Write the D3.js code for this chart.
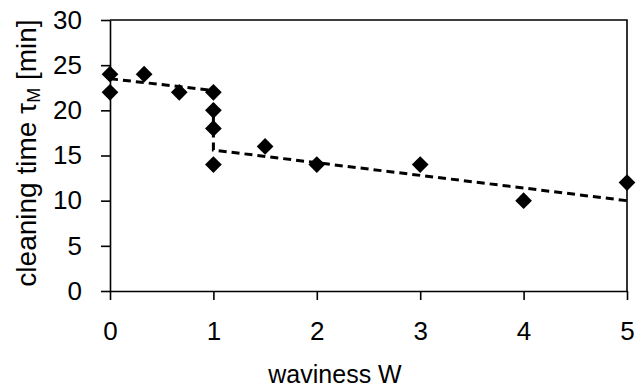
<!DOCTYPE html>
<html>
<head>
<meta charset="utf-8">
<script src="https://cdn.jsdelivr.net/npm/d3@7"></script>
<style>
  body { margin: 0; background: #fff; }
  text { font-family: "Liberation Sans", Arial, sans-serif; fill: #000; }
</style>
</head>
<body>
<div id="chart"></div>
<script>
// measured points: waviness W vs cleaning time tau_M [min]
var waviness = [0, 0, 0.33, 0.67, 1, 1, 1, 1, 1.5, 2, 3, 4, 5];
var cleaningTime = [24, 22, 24, 22, 22, 20, 18, 14, 16, 14, 14, 10, 12];

// dashed trend line (two fits joined by a step at W = 1)
var trendW = [0, 1, 1, 5];
var trendTime = [23.5, 22.2, 15.6, 10];

var xTicks = [0, 1, 2, 3, 4, 5];
var yTicks = [0, 5, 10, 15, 20, 25, 30];

var _width = 641,
    _height = 388,
    _left = 110,
    _right = 627,
    _top = 20,
    _bottom = 291;

var svg = d3.select('#chart').append('svg')
    .attr('width', _width)
    .attr('height', _height);

var x = d3.scaleLinear().domain([0, 5]).range([_left, _right]);
var y = d3.scaleLinear().domain([0, 30]).range([_bottom, _top]);

// BOX (top + right)
// ----------------------------------------------------------------
svg.append('path')
    .attr('d', 'M' + _left + ',' + _top + 'H' + _right + 'V' + _bottom)
    .attr('fill', 'none')
    .attr('stroke', '#000')
    .attr('stroke-width', 1.6);

// AXES
// ----------------------------------------------------------------
var gx = svg.append('g')
    .attr('transform', 'translate(0,' + _bottom + ')')
    .call(d3.axisBottom(x).tickValues(xTicks).tickFormat(d3.format('d'))
        .tickSize(9).tickPadding(22).tickSizeOuter(0));

var gy = svg.append('g')
    .attr('transform', 'translate(' + _left + ',0)')
    .call(d3.axisLeft(y).tickValues(yTicks).tickFormat(d3.format('d'))
        .tickSize(9).tickPadding(19).tickSizeOuter(0));

[gx, gy].forEach(function (g) {
    g.select('.domain').attr('stroke', '#000').attr('stroke-width', 1.6);
    g.selectAll('.tick line').attr('stroke', '#000').attr('stroke-width', 1.6);
    g.selectAll('.tick text')
        .attr('font-family', '"Liberation Sans", Arial, sans-serif')
        .attr('font-size', 26)
        .attr('fill', '#000');
});

// TREND LINE
// ----------------------------------------------------------------
var line = d3.line()
    .x(function (d) { return x(d[0]); })
    .y(function (d) { return y(d[1]); });

svg.append('path')
    .datum(d3.zip(trendW, trendTime))
    .attr('d', line)
    .attr('fill', 'none')
    .attr('stroke', '#000')
    .attr('stroke-width', 3)
    .attr('stroke-dasharray', '8,5');

// POINTS
// ----------------------------------------------------------------
var diamond = d3.symbol().type(d3.symbolSquare).size(140);

svg.append('g').selectAll('path')
    .data(d3.zip(waviness, cleaningTime))
    .enter()
    .append('path')
    .attr('d', diamond)
    .attr('transform', function (d) {
        return 'translate(' + x(d[0]) + ',' + y(d[1]) + ') rotate(45)';
    })
    .attr('fill', '#000');

// AXIS LABELS
// ----------------------------------------------------------------
svg.append('text')
    .attr('x', 335)
    .attr('y', 383)
    .attr('text-anchor', 'middle')
    .attr('font-size', 25)
    .text('waviness W');

var yLabel = svg.append('text')
    .attr('transform', 'translate(36,153) rotate(-90)')
    .attr('text-anchor', 'middle')
    .attr('font-size', 28);
yLabel.append('tspan').text('cleaning time \u03c4');
yLabel.append('tspan').attr('font-size', 18).attr('dy', 4).text('M');
yLabel.append('tspan').attr('dy', -4).text(' [min]');
</script>
</body>
</html>
